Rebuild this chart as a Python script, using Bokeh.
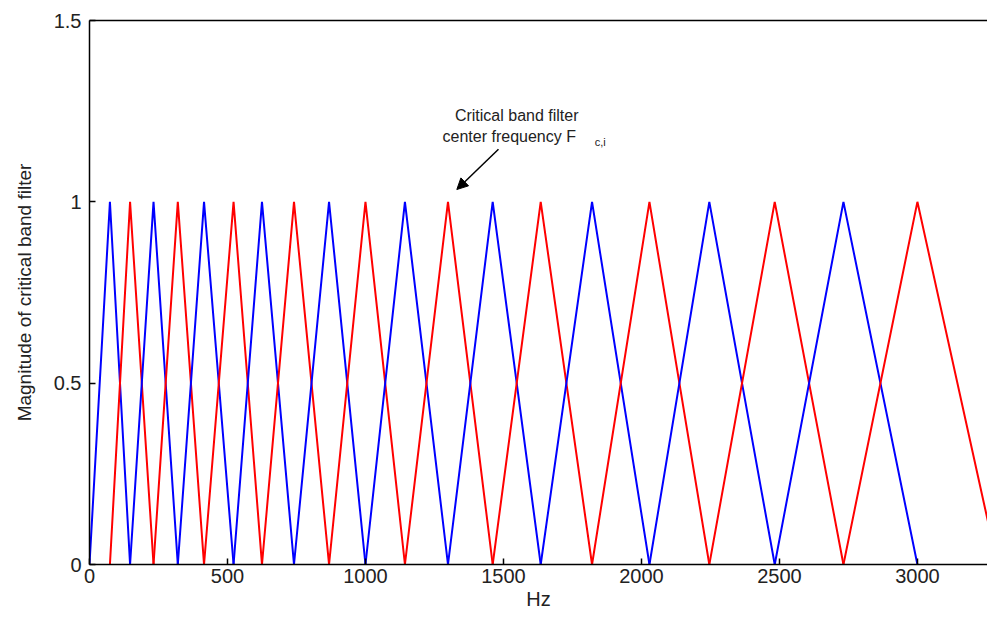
from bokeh.plotting import figure
from bokeh.models import ColumnDataSource, FixedTicker, Label, Arrow, NormalHead, Range1d, LinearAxis
from bokeh.embed import file_html
from bokeh.resources import INLINE

# Critical band filter center frequencies (Hz)
centers = [74, 147, 232, 320, 415, 522, 625, 741, 868, 1000, 1143, 1299,
           1461, 1635, 1821, 2029, 2246, 2483, 2732, 3000]
next_center = 3290  # the band edge beyond the last filter
colors = ["blue", "red"]
x_ticks = [0, 500, 1000, 1500, 2000, 2500, 3000]
y_ticks = [0, 0.5, 1, 1.5]
y_tick_labels = {0: "0", 0.5: "0.5", 1: "1", 1.5: "1.5"}

edges = [0] + centers + [next_center]
xs, ys, cs = [], [], []
for i in range(len(centers)):
    xs.append([edges[i], edges[i + 1], edges[i + 2]])
    ys.append([0, 1, 0])
    cs.append(colors[i % 2])
src = ColumnDataSource(dict(xs=xs, ys=ys, color=cs))

FONT = "Liberation Sans"
TXT = "#222222"
p = figure(width=987, height=617, output_backend="svg", toolbar_location=None,
           x_range=Range1d(0, 3254), y_range=Range1d(0, 1.5),
           min_border_left=89, min_border_right=0, min_border_top=20, min_border_bottom=53)
p.multi_line(xs="xs", ys="ys", line_color="color", line_width=2, source=src)

p.grid.visible = False
p.background_fill_color = "white"
p.border_fill_color = "white"
p.outline_line_color = None

xa = p.below[0]
ya = p.left[0]

# top border line (no labels)
top = LinearAxis(ticker=FixedTicker(ticks=[]), major_label_text_font_size="0px",
                 axis_line_color="black", axis_line_width=1.5,
                 major_tick_line_color=None, minor_tick_line_color=None,
                 major_label_standoff=0)
p.add_layout(top, "above")

for ax in (xa, ya):
    ax.axis_line_color = "black"
    ax.axis_line_width = 1.5
    ax.major_tick_in = 6
    ax.major_tick_out = 0
    ax.major_tick_line_color = "black"
    ax.major_tick_line_width = 1.5
    ax.minor_tick_line_color = None
    ax.major_label_text_font = FONT
    ax.major_label_text_font_size = "20px"
    ax.major_label_text_color = TXT
    ax.axis_label_text_font = FONT
    ax.axis_label_text_font_style = "normal"
    ax.axis_label_text_color = TXT

xa.ticker = FixedTicker(ticks=x_ticks)
ya.ticker = FixedTicker(ticks=y_ticks)
ya.major_label_overrides = y_tick_labels
xa.axis_label = "Hz"
xa.axis_label_text_font_size = "20px"
xa.axis_label_standoff = 2
xa.major_label_standoff = 4
ya.axis_label = "Magnitude of critical band filter"
ya.axis_label_text_font_size = "19px"
ya.axis_label_standoff = 16
ya.major_label_standoff = 8

p.add_layout(Label(x=1548, y=1.239, text="Critical band filter", text_font=FONT,
                   text_font_size="16px", text_align="center", text_baseline="middle",
                   text_color=TXT))
p.add_layout(Label(x=1521, y=1.181, text="center frequency F", text_font=FONT,
                   text_font_size="16px", text_align="center", text_baseline="middle",
                   text_color=TXT))
p.add_layout(Label(x=1831, y=1.166, text="c,i", text_font=FONT,
                   text_font_size="11px", text_align="left", text_baseline="middle",
                   text_color=TXT))
p.add_layout(Arrow(end=NormalHead(size=11, fill_color="black", line_color="black"),
                   x_start=1482, y_start=1.145, x_end=1331, y_end=1.034,
                   line_color="black", line_width=1.5))

open("out.html", "w").write(file_html(p, INLINE))
